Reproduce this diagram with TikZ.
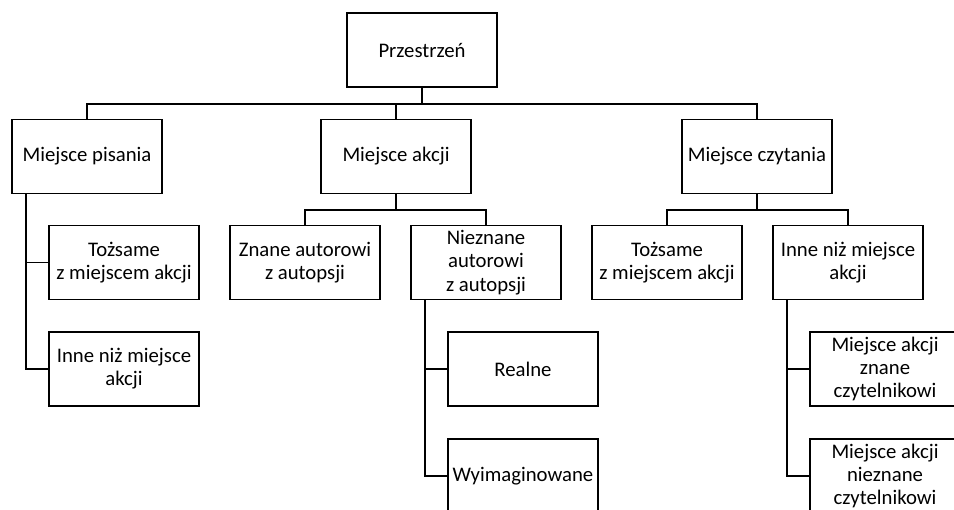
\documentclass[tikz,border=0pt]{standalone}
\usepackage{fontspec}
\setmainfont{Carlito}
\usepackage{tikz}

\begin{document}
\begin{tikzpicture}[x=0.02cm,y=-0.02cm,
        box/.style={draw,line width=1.1pt,minimum width=3cm,minimum height=1.48cm,
            align=center,inner sep=1pt,font=\fontsize{11.8}{13.2}\selectfont},
        link/.style={line width=1.1pt}]
        \useasboundingbox (0,0) rectangle (954,510);
        \clip (0,0) rectangle (954,510);

        % Top
        \node[box] (root) at (422,50) {Przestrzeń};

        % Level 1
        \node[box] (pis) at (87,156.5) {Miejsce pisania};
        \node[box] (akc) at (396,156.5) {Miejsce akcji};
        \node[box] (czy) at (757,156.5) {Miejsce czytania};

        % Level 2
        \node[box] (tozL) at (124,262.5) {Tożsame\\z miejscem akcji};
        \node[box] (inneL) at (124,369) {Inne niż miejsce\\akcji};
        \node[box] (znane) at (305,262.5) {Znane autorowi\\z autopsji};
        \node[box] (niez) at (486,262.5) {Nieznane\\autorowi\\z autopsji};
        \node[box] (tozR) at (667,262.5) {Tożsame\\z miejscem akcji};
        \node[box] (inneR) at (848,262.5) {Inne niż miejsce\\akcji};

        % Level 3
        \node[box] (real) at (523,369) {Realne};
        \node[box] (wyim) at (523,476) {Wyimaginowane};
        \node[box] (mzn) at (885,369) {Miejsce akcji\\znane\\czytelnikowi};
        \node[box] (mnz) at (885,476) {Miejsce akcji\\nieznane\\czytelnikowi};

        % Connectors
        \foreach \c in {pis,akc,czy}
            \draw[link] (root.south) -- ++(0,16) -| (\c.north);
        \foreach \c in {znane,niez}
            \draw[link] (akc.south) -- ++(0,15.5) -| (\c.north);
        \foreach \c in {tozR,inneR}
            \draw[link] (czy.south) -- ++(0,15.5) -| (\c.north);
        \foreach \c in {tozL,inneL}
            \draw[link] ([xshift=0.3cm]pis.south west) |- (\c.west);
        \foreach \c in {real,wyim}
            \draw[link] ([xshift=0.3cm]niez.south west) |- (\c.west);
        \foreach \c in {mzn,mnz}
            \draw[link] ([xshift=0.3cm]inneR.south west) |- (\c.west);

    \end{tikzpicture}
\end{document}
